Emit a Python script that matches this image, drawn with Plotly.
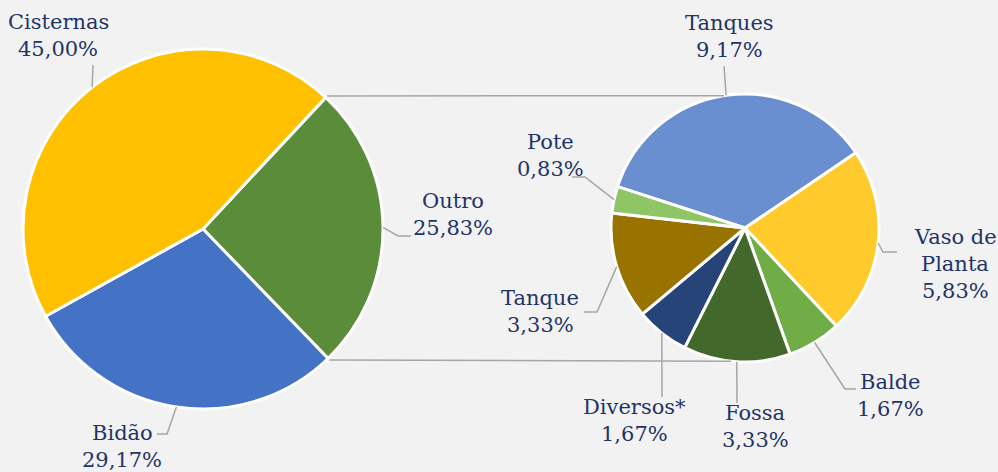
import math
import plotly.graph_objects as go

# ---------------- data ----------------
MAIN_LABELS = ["Outro", "Bidão", "Cisternas"]
MAIN_VALUES = [25.83, 29.17, 45.00]
MAIN_COLORS = ["#5B8C3A", "#4472C4", "#FFC000"]

SUB_LABELS = ["Tanques", "Vaso de Planta", "Balde", "Fossa", "Diversos*", "Tanque", "Pote"]
SUB_VALUES = [9.17, 5.83, 1.67, 3.33, 1.67, 3.33, 0.83]
SUB_COLORS = ["#6A8FD0", "#FFCA2C", "#70AD47", "#43682B", "#264478", "#997300", "#8FC665"]

SPLIT_NAME = {"Vaso de Planta": ["Vaso de", "Planta"]}

# ---------------- layout (pixels) ----------------
W, H = 998, 472
BG = "#F2F2F2"
TXT = "#1F3468"
LINE = "#A6A6A6"
FONT = "Georgia, DejaVu Serif, serif"
FSIZE = 21
GAP = 27

MAIN_C, MAIN_R, MAIN_START = (203, 229), 180, 47.0
SUB_C, SUB_R, SUB_START = (745, 228), 134, 162.0
CONNECT_SUB_ANGLES = (99.0, -96.0)

MAIN_POS = {
    "Cisternas": dict(x=58, y=22, pts=[(93, 65)]),
    "Outro": dict(x=453, y=201, pts=[(411, 236), (398, 236)]),
    "Bidão": dict(x=122, y=433, pts=[(157, 434), (167, 434)]),
}
SUB_POS = {
    "Tanques": dict(x=729, y=23, pts=[(724, 66)]),
    "Vaso de Planta": dict(x=955, y=237, pts=[(897, 252), (883, 252)]),
    "Balde": dict(x=890, y=382, pts=[(856, 389), (845, 389)]),
    "Fossa": dict(x=755, y=413, pts=[(737, 403)]),
    "Diversos*": dict(x=634, y=407, pts=[(662, 397)]),
    "Tanque": dict(x=540, y=298, pts=[(584, 312), (597, 312)]),
    "Pote": dict(x=550, y=142, pts=[(572, 177), (585, 177)]),
}


def px(x):
    return x / W


def py(y):
    return 1 - y / H


def edge_point(center, r, ang):
    a = math.radians(ang)
    return center[0] + r * math.cos(a), center[1] - r * math.sin(a)


def mid_angles(values, start):
    tot = sum(values)
    out, cum = [], 0.0
    for v in values:
        out.append(start - (cum + v / 2) / tot * 360)
        cum += v
    return out


def domain(center, r):
    return dict(x=[px(center[0] - r), px(center[0] + r)],
                y=[py(center[1] + r), py(center[1] - r)])


def fmt(v):
    return f"{v:.2f}".replace(".", ",") + "%"


fig = go.Figure()
for labels, values, colors, c, r, start in [
    (MAIN_LABELS, MAIN_VALUES, MAIN_COLORS, MAIN_C, MAIN_R, MAIN_START),
    (SUB_LABELS, SUB_VALUES, SUB_COLORS, SUB_C, SUB_R, SUB_START),
]:
    fig.add_trace(go.Pie(
        labels=labels, values=values, sort=False, direction="clockwise",
        rotation=90 - start, textinfo="none", showlegend=False,
        marker=dict(colors=colors, line=dict(color="white", width=3)),
        domain=domain(c, r), hoverinfo="label+value",
    ))

shapes, annots = [], []
for labels, values, c, r, start, pos in [
    (MAIN_LABELS, MAIN_VALUES, MAIN_C, MAIN_R, MAIN_START, MAIN_POS),
    (SUB_LABELS, SUB_VALUES, SUB_C, SUB_R, SUB_START, SUB_POS),
]:
    mids = mid_angles(values, start)
    for lab, v, m in zip(labels, values, mids):
        p = pos[lab]
        lines = SPLIT_NAME.get(lab, [lab]) + [fmt(v)]
        for i, t in enumerate(lines):
            annots.append(dict(x=px(p["x"]), y=py(p["y"] + i * GAP), xref="paper", yref="paper",
                               text=t, showarrow=False, xanchor="center", yanchor="middle",
                               font=dict(family=FONT, size=FSIZE, color=TXT)))
        ex, ey = edge_point(c, r, m)
        pts = p["pts"] + [(ex, ey)]
        path = "M " + " L ".join(f"{px(a):.5f} {py(b):.5f}" for a, b in pts)
        shapes.append(dict(type="path", path=path, xref="paper", yref="paper",
                           line=dict(color=LINE, width=1.5)))

# connector lines between the pies
outro_span = MAIN_VALUES[0] / sum(MAIN_VALUES) * 360
for main_ang, sub_ang in [(MAIN_START, CONNECT_SUB_ANGLES[0]),
                          (MAIN_START - outro_span, CONNECT_SUB_ANGLES[1])]:
    x0, y0 = edge_point(MAIN_C, MAIN_R + 2, main_ang)
    x1, y1 = edge_point(SUB_C, SUB_R, sub_ang)
    shapes.append(dict(type="line", xref="paper", yref="paper",
                       x0=px(x0), y0=py(y0), x1=px(x1), y1=py(y1),
                       line=dict(color=LINE, width=1.5)))

fig.update_layout(
    width=W, height=H, autosize=False,
    margin=dict(l=0, r=0, t=0, b=0),
    paper_bgcolor=BG, plot_bgcolor=BG,
    shapes=shapes, annotations=annots,
)
fig.write_html(
    "out.html",
    config={"displayModeBar": False},
    post_script="document.body.style.margin='0';document.body.style.background='#F2F2F2';",
)
